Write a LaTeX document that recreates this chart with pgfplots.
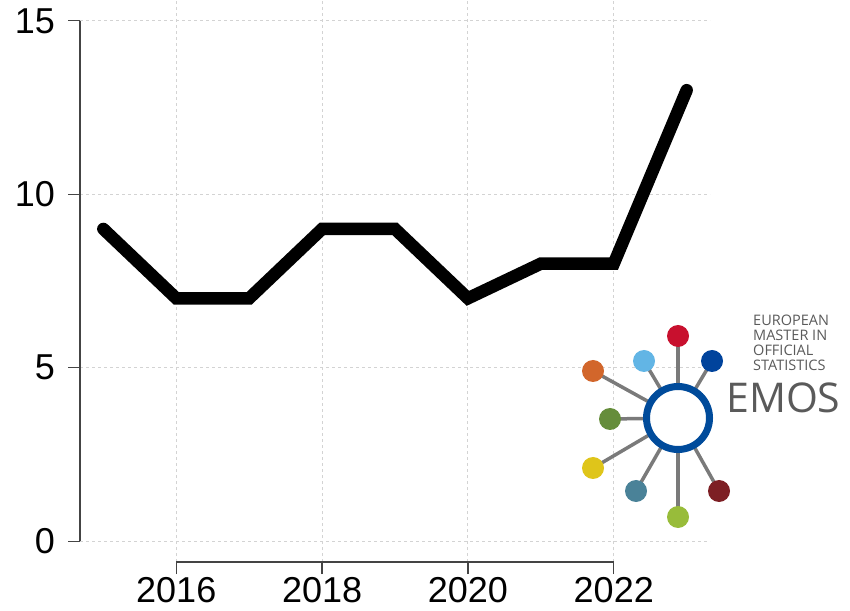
\documentclass[border=0pt]{standalone}
\usepackage{pgfplots}
\pgfplotsset{compat=1.18}
\usepackage{fontspec}
\setmainfont{Liberation Sans}
\newfontfamily\logofont{Open Sans}
\definecolor{axgray}{HTML}{444444}
\definecolor{gridgray}{HTML}{D3D3D3}
\definecolor{ringblue}{HTML}{004B9B}
\definecolor{spoke}{HTML}{7A7A7A}
\definecolor{logotext}{HTML}{5A5A5A}
\definecolor{dred}{HTML}{C8102E}
\definecolor{dlblue}{HTML}{62B5E5}
\definecolor{ddblue}{HTML}{00439C}
\definecolor{dorange}{HTML}{D2662B}
\definecolor{dgreen}{HTML}{658D3B}
\definecolor{dyellow}{HTML}{DFC51A}
\definecolor{dteal}{HTML}{4A8298}
\definecolor{dlime}{HTML}{98BC3A}
\definecolor{dmaroon}{HTML}{7D1F24}
\begin{document}
\begin{tikzpicture}[x=1pt,y=1pt]
\useasboundingbox (0,0) rectangle (850,610);
\begin{axis}[
  at={(80pt,48pt)}, anchor=south west,
  scale only axis, width=630pt, height=562pt,
  xmin=2014.68, xmax=2023.32, ymin=-0.6, ymax=15.6,
  axis lines*=left,
  axis line style={draw=none},
  xtick={2016,2018,2020,2022},
  ytick={0,5,10,15},
  tick align=outside,
  major tick length=12pt,
  tick style={axgray, line width=1.2pt},
  xmajorgrids, ymajorgrids,
  major grid style={gridgray, line width=1.1pt, dash pattern=on 3pt off 3pt},
  /pgf/number format/1000 sep={},
  /pgf/number format/assume math mode=true,
  ticklabel style={font=\fontsize{36}{40}\selectfont, inner sep=0pt},
  yticklabel style={anchor=east, xshift=-13pt},
  xticklabel style={anchor=north, yshift=-3pt},
  clip=false,
]
\draw[axgray, line width=1.2pt] (axis cs:2014.68,0) -- (axis cs:2014.68,15);
\draw[axgray, line width=1.2pt] (axis cs:2016,-0.6) -- (axis cs:2022,-0.6);
\addplot[black, line width=12.5pt, line cap=round, line join=miter] coordinates {
(2015,9) (2016,7) (2017,7) (2018,9) (2019,9) (2020,7) (2021,8) (2022,8) (2023,13)
};
\end{axis}
% EMOS logo
\begin{scope}[yscale=-1, yshift=-610pt]
\foreach \px/\py/\c in {678/336/dred, 644/361/dlblue, 712/361/ddblue, 593/371/dorange, 610/419/dgreen, 593/468/dyellow, 636/491/dteal, 678/517/dlime, 719/491/dmaroon}{
  \draw[spoke, line width=3.5pt] (678,418) -- (\px,\py);
}
\foreach \px/\py/\c in {678/336/dred, 644/361/dlblue, 712/361/ddblue, 593/371/dorange, 610/419/dgreen, 593/468/dyellow, 636/491/dteal, 678/517/dlime, 719/491/dmaroon}{
  \fill[\c] (\px,\py) circle (11);
}
\filldraw[fill=white, draw=ringblue, line width=7pt] (678,418) circle (31.5);
\node[anchor=north west, inner sep=0pt, align=left, text=logotext,
  font=\logofont\fontsize{14.5}{14.8}\selectfont] at (753,315) {EUROPEAN\\MASTER IN\\OFFICIAL\\STATISTICS};
\node[anchor=base west, inner sep=0pt, text=logotext,
  font=\logofont\fontsize{41}{42}\selectfont] at (726,413) {EMOS};
\end{scope}
\end{tikzpicture}
\end{document}
